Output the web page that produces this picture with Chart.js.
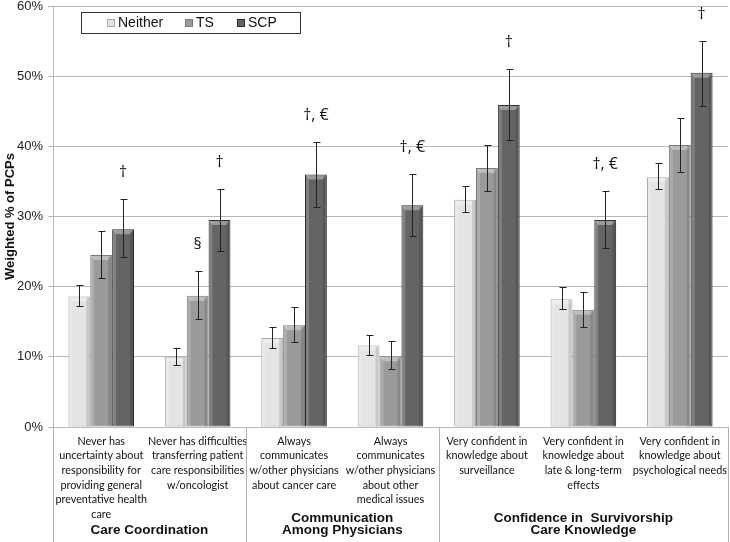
<!DOCTYPE html>
<html>
<head>
<meta charset="utf-8">
<script src="https://cdn.jsdelivr.net/npm/chart.js@4.4.0/dist/chart.umd.min.js"></script>
<style>
body{margin:0;background:#fff}
</style>
</head>
<body>
<canvas id="myChart" width="730" height="542"></canvas>
<script>
// categorias (lineas del eje x)
var categorias = [
  ['Never has', 'uncertainty about', 'responsibility for', 'providing general', 'preventative health', 'care'],
  ['Never has difficulties', 'transferring patient', 'care responsibilities', 'w/oncologist'],
  ['Always', 'communicates', 'w/other physicians', 'about cancer care'],
  ['Always', 'communicates', 'w/other physicians', 'about other', 'medical issues'],
  ['Very confident in', 'knowledge about', 'surveillance'],
  ['Very confident in', 'knowledge about', 'late & long-term', 'effects'],
  ['Very confident in', 'knowledge about', 'psychological needs']
];
var grupos = ['Care Coordination', ['Communication', 'Among Physicians'], ['Confidence in  Survivorship', 'Care Knowledge']];
var gruposDesde = [0, 2, 4];
var gruposHasta = [1, 3, 6];

var series = ['Neither', 'TS', 'SCP'];
var neither = [18.6, 10.0, 12.7, 11.6, 32.4, 18.2, 35.6];
var ts      = [24.5, 18.7, 14.5, 10.1, 36.9, 16.7, 40.2];
var scp     = [28.2, 29.5, 36.0, 31.6, 45.9, 29.5, 50.5];

// intervalos (bajo / alto)
var neitherLo = [17.2, 8.9, 11.3, 10.2, 30.7, 16.8, 33.9];
var neitherHi = [20.2, 11.3, 14.3, 13.1, 34.3, 19.9, 37.6];
var tsLo      = [21.3, 15.4, 12.1, 8.3, 33.7, 14.3, 36.3];
var tsHi      = [27.9, 22.2, 17.1, 12.2, 40.2, 19.3, 44.1];
var scpLo     = [24.2, 25.1, 31.4, 27.2, 40.9, 25.5, 45.8];
var scpHi     = [32.5, 33.9, 40.6, 36.0, 51.0, 33.6, 55.0];

// simbolos de significancia
var simbolosTS  = ['', '§', '', '', '', '', ''];
var simbolosSCP = ['†', '†', '†, €', '†, €', '†', '†, €', '†'];

var yTicks = [0, 10, 20, 30, 40, 50, 60];

var rangos = [[neitherLo, neitherHi], [tsLo, tsHi], [scpLo, scpHi]];
var simbolos = [null, simbolosTS, simbolosSCP];

var extras = {
  id: 'extras',
  // relieve de las barras (debajo de la cuadricula)
  afterDatasetsDraw: function(chart) {
    var ctx = chart.ctx;
    ctx.save();
    for (var d = 0; d < 3; d++) {
      chart.getDatasetMeta(d).data.forEach(function(bar) {
        var l = bar.x - bar.width / 2 + 1, r = bar.x + bar.width / 2 - 1;
        var t = bar.y + 1, b = bar.base;
        ctx.fillStyle = 'rgba(255,255,255,0.35)';
        ctx.beginPath();
        ctx.moveTo(l, t); ctx.lineTo(r, t); ctx.lineTo(r - 3, t + 4); ctx.lineTo(l + 3, t + 4);
        ctx.closePath(); ctx.fill();
        ctx.fillStyle = 'rgba(255,255,255,0.18)';
        ctx.fillRect(l, t, 3, b - t);
        ctx.fillStyle = 'rgba(0,0,0,0.12)';
        ctx.fillRect(r - 3, t, 3, b - t);
      });
    }
    ctx.restore();
  },
  afterDraw: function(chart) {
    var ctx = chart.ctx;
    var x = chart.scales.x, y = chart.scales.y;
    var area = chart.chartArea;
    ctx.save();

    // barras de error
    ctx.strokeStyle = '#222';
    ctx.lineWidth = 1;
    for (var d = 0; d < 3; d++) {
      var meta = chart.getDatasetMeta(d);
      meta.data.forEach(function(bar, j) {
        var cx = Math.round(bar.x) + 0.5;
        var lo = Math.round(y.getPixelForValue(rangos[d][0][j])) + 0.5;
        var hi = Math.round(y.getPixelForValue(rangos[d][1][j])) + 0.5;
        ctx.beginPath();
        ctx.moveTo(cx, lo); ctx.lineTo(cx, hi);
        ctx.moveTo(cx - 3, lo); ctx.lineTo(cx + 4, lo);
        ctx.moveTo(cx - 3, hi); ctx.lineTo(cx + 4, hi);
        ctx.stroke();
        if (simbolos[d] && simbolos[d][j]) {
          ctx.fillStyle = '#111';
          ctx.font = '16px "Open Sans", sans-serif';
          ctx.textAlign = 'center';
          ctx.textBaseline = 'middle';
          ctx.fillText(simbolos[d][j], bar.x, hi - 27);
        }
      });
    }

    // separadores
    ctx.strokeStyle = '#b0b0b0';
    var cortes = [-0.5, 1.5, 3.5, 6.5];
    cortes.forEach(function(c) {
      var px = Math.round(x.getPixelForValue(c)) + 0.5;
      if (c === -0.5) px = Math.round(area.left) + 0.5;
      ctx.beginPath();
      ctx.moveTo(px, area.bottom);
      ctx.lineTo(px, chart.height);
      ctx.stroke();
    });

    // etiquetas de grupo
    ctx.fillStyle = '#111';
    ctx.font = 'bold 13.5px "Liberation Sans", Arial, sans-serif';
    ctx.textAlign = 'center';
    ctx.textBaseline = 'middle';
    grupos.forEach(function(g, i) {
      var gx = x.getPixelForValue((gruposDesde[i] + gruposHasta[i]) / 2);
      var lineas = Array.isArray(g) ? g : [g];
      for (var k = 0; k < lineas.length; k++) {
        var ly = 530.5 - (lineas.length - 1 - k) * 12.5;
        ctx.fillText(lineas[k], gx, ly);
      }
    });

    // leyenda
    ctx.fillStyle = '#fff';
    ctx.fillRect(81.5, 12.5, 219, 21);
    ctx.strokeStyle = '#333';
    ctx.strokeRect(81.5, 12.5, 219, 21);
    var marcas = [107, 185, 237];
    ctx.font = '14px "Liberation Sans", Arial, sans-serif';
    ctx.textAlign = 'left';
    chart.data.datasets.forEach(function(ds, i) {
      ctx.fillStyle = ds.backgroundColor;
      ctx.fillRect(marcas[i], 19, 8, 8);
      ctx.strokeStyle = ds.borderColor;
      ctx.strokeRect(marcas[i] + 0.5, 19.5, 7, 7);
      ctx.fillStyle = '#111';
      ctx.fillText(ds.label, marcas[i] + 11, 23.5);
    });
    ctx.restore();
  }
};

var ctx = document.getElementById('myChart');
var grafica = new Chart(ctx, {
  type: 'bar',
  data: {
    labels: categorias,
    datasets: [
      { label: series[0], data: neither, backgroundColor: '#e4e4e4', borderColor: '#a9a9a9', borderWidth: 1 },
      { label: series[1], data: ts, backgroundColor: '#9a9a9a', borderColor: '#7a7a7a', borderWidth: 1 },
      { label: series[2], data: scp, backgroundColor: '#646464', borderColor: '#2c2c2c', borderWidth: 1 }
    ]
  },
  options: {
    responsive: false,
    animation: false,
    layout: { padding: { top: 6, right: 2, left: 0, bottom: 0 } },
    datasets: { bar: { categoryPercentage: 0.68, barPercentage: 1.0, borderSkipped: false } },
    plugins: {
      legend: { display: false },
      tooltip: { enabled: false }
    },
    scales: {
      x: {
        grid: { display: false, drawTicks: false },
        border: { display: false },
        ticks: {
          autoSkip: false,
          maxRotation: 0,
          padding: 7,
          color: '#111',
          font: { family: 'Lato', size: 10.8, lineHeight: 1.35 }
        },
        afterFit: function(scale) {
          scale.height = 115;
          scale.paddingLeft = 0;
          scale.paddingRight = 0;
        }
      },
      y: {
        min: 0,
        max: 60,
        z: 1,
        afterBuildTicks: function(scale) {
          scale.ticks = yTicks.map(function(v) { return { value: v }; });
        },
        ticks: {
          callback: function(v) { return v + '%'; },
          color: '#222',
          padding: 5,
          font: { family: '"Liberation Sans", Arial, sans-serif', size: 13 }
        },
        grid: { color: '#b8b8b8', tickLength: 5 },
        border: { color: '#b8b8b8' },
        title: {
          display: true,
          text: 'Weighted % of PCPs',
          color: '#111',
          padding: { top: 3, bottom: 0 },
          font: { family: '"Liberation Sans", Arial, sans-serif', size: 13, weight: 'bold' }
        },
        afterFit: function(scale) {
          scale.width = 53;
          scale.paddingTop = 0;
          scale.paddingBottom = 0;
        }
      }
    }
  },
  plugins: [extras]
});
</script>
</body>
</html>
